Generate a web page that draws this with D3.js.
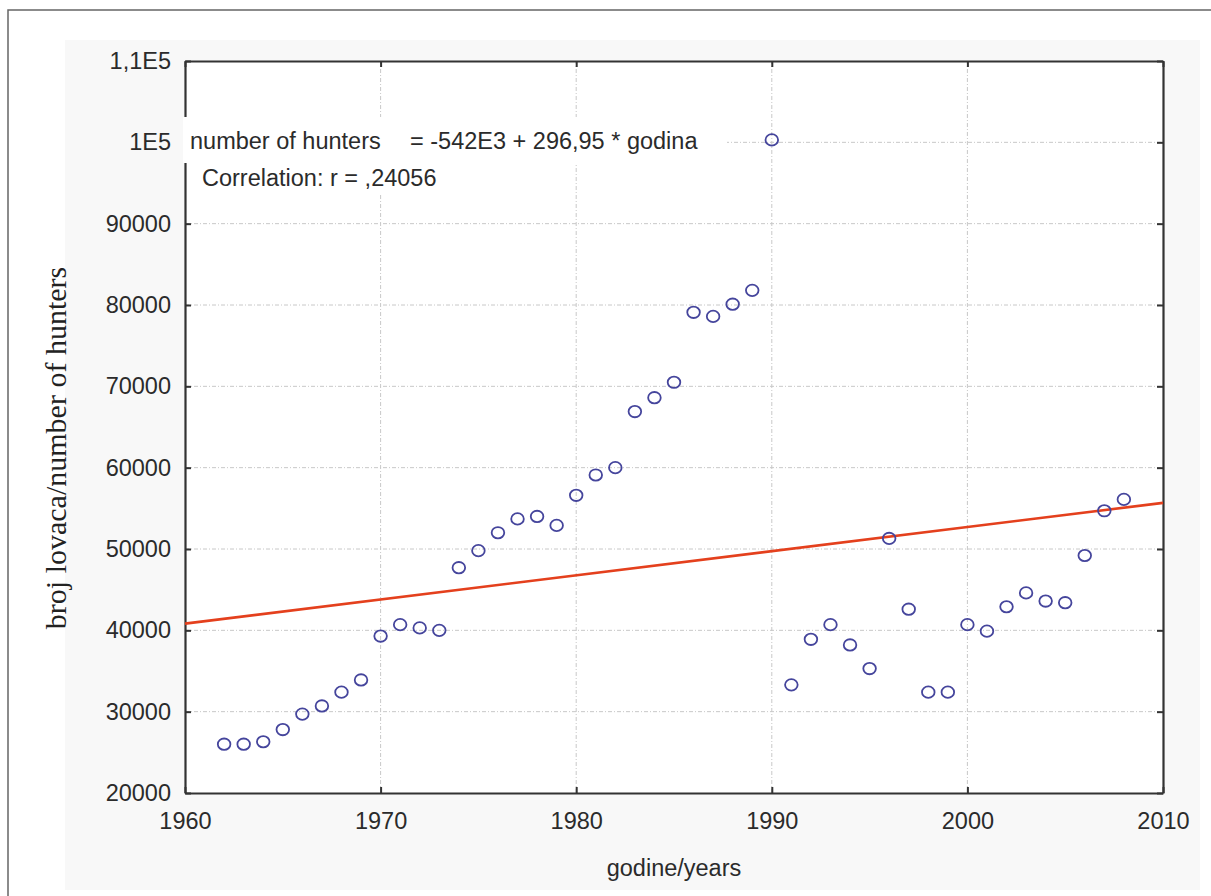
<!DOCTYPE html>
<html>
<head>
<meta charset="utf-8">
<script src="https://cdn.jsdelivr.net/npm/d3@7"></script>
<style>
  html, body { margin: 0; padding: 0; background: #ffffff; }
  svg { display: block; }
</style>
</head>
<body>
<svg id="chart" width="1211" height="896"></svg>
<script>
// ---- data ----
const years = [1962,1963,1964,1965,1966,1967,1968,1969,1970,1971,1972,1973,1974,1975,1976,1977,1978,1979,1980,1981,1982,1983,1984,1985,1986,1987,1988,1989,1990,1991,1992,1993,1994,1995,1996,1997,1998,1999,2000,2001,2002,2003,2004,2005,2006,2007,2008];
const hunters = [26000,26000,26300,27800,29700,30700,32400,33900,39300,40700,40300,40000,47700,49800,52000,53700,54000,52900,56600,59100,60000,66900,68600,70500,79100,78600,80100,81800,100300,33300,38900,40700,38200,35300,51300,42600,32400,32400,40700,39900,42900,44600,43600,43400,49200,54700,56100];
const xTicks = [1960,1970,1980,1990,2000,2010];
const yTicks = [20000,30000,40000,50000,60000,70000,80000,90000,100000,110000];
const yTickLabels = ["20000","30000","40000","50000","60000","70000","80000","90000","1E5","1,1E5"];
const fitIntercept = -541200;
const fitSlope = 296.95;
const eqLeft = "number of hunters";
const eqRight = "= -542E3 + 296,95 * godina";
const corrText = "Correlation: r = ,24056";
const xTitle = "godine/years";
const yTitle = "broj lovaca/number of hunters";

// ---- layout ----
const W = 1211, H = 896;
const m = {left: 185, right: 48, top: 61, bottom: 103};
const svg = d3.select("#chart");
const x = d3.scaleLinear().domain([1960, 2010]).range([m.left, W - m.right]);
const y = d3.scaleLinear().domain([20000, 110000]).range([H - m.bottom, m.top]);
const sans = "'Liberation Sans', Arial, sans-serif";
const textCol = "#2b2b2b";

// outer light background + frame
svg.append("rect").attr("x", 65).attr("y", 40).attr("width", 1135).attr("height", 850).attr("fill", "#f8f8f8");
svg.append("path").attr("d", `M8,${H} L8,10 L${W},10`).attr("fill", "none").attr("stroke", "#666").attr("stroke-width", 1.5);

// plot area
svg.append("rect").attr("x", x(1960)).attr("y", y(110000)).attr("width", x(2010) - x(1960)).attr("height", y(20000) - y(110000)).attr("fill", "#fff");

// gridlines
const grid = svg.append("g");
grid.selectAll("line.h").data(yTicks.slice(1, -1)).join("line")
  .attr("x1", x(1960)).attr("x2", x(2010)).attr("y1", d => y(d)).attr("y2", d => y(d))
  .attr("stroke", "#c8c8c8").attr("stroke-width", 1).attr("stroke-dasharray", "4,2,1,2");
grid.selectAll("line.v").data(xTicks.slice(1, -1)).join("line")
  .attr("y1", y(20000)).attr("y2", y(110000)).attr("x1", d => x(d)).attr("x2", d => x(d))
  .attr("stroke", "#c8c8c8").attr("stroke-width", 1).attr("stroke-dasharray", "4,2,1,2");

// axes with inward ticks
const axBottom = svg.append("g").attr("transform", `translate(0,${y(20000)})`)
  .call(d3.axisBottom(x).tickValues(xTicks).tickFormat(d3.format("d")).tickSizeInner(-6).tickSizeOuter(0).tickPadding(19));
const axTop = svg.append("g").attr("transform", `translate(0,${y(110000)})`)
  .call(d3.axisTop(x).tickValues(xTicks).tickFormat("").tickSizeInner(-6).tickSizeOuter(0));
const axLeft = svg.append("g").attr("transform", `translate(${x(1960)},0)`)
  .call(d3.axisLeft(y).tickValues(yTicks).tickFormat((d, i) => yTickLabels[i]).tickSizeInner(-6).tickSizeOuter(0).tickPadding(14));
const axRight = svg.append("g").attr("transform", `translate(${x(2010)},0)`)
  .call(d3.axisRight(y).tickValues(yTicks).tickFormat("").tickSizeInner(-6).tickSizeOuter(0));
[axBottom, axTop, axLeft, axRight].forEach(g => {
  g.select(".domain").attr("stroke", "#333").attr("stroke-width", 2.2);
  g.selectAll(".tick line").attr("stroke", "#333").attr("stroke-width", 2);
  g.selectAll(".tick text").attr("font-family", sans).attr("font-size", 23.5).attr("fill", textCol);
});

// regression line
svg.append("line")
  .attr("x1", x(1960)).attr("y1", y(fitIntercept + fitSlope * 1960))
  .attr("x2", x(2010)).attr("y2", y(fitIntercept + fitSlope * 2010))
  .attr("stroke", "#e4401d").attr("stroke-width", 2.6);

// annotation boxes (white background, hiding axis and grid behind)
const ann = svg.append("g").attr("font-family", sans).attr("font-size", 23.5).attr("fill", textCol);
ann.append("rect").attr("x", 183).attr("y", 117).attr("width", 544).attr("height", 46).attr("fill", "#fff");
ann.append("rect").attr("x", 196).attr("y", 163).attr("width", 250).attr("height", 30).attr("fill", "#fff");
ann.append("text").attr("x", 190).attr("y", 148.5).text(eqLeft);
ann.append("text").attr("x", 410).attr("y", 148.5).text(eqRight);
ann.append("text").attr("x", 202).attr("y", 185.5).text(corrText);

// points
svg.append("g").selectAll("ellipse").data(years).join("ellipse")
  .attr("cx", (d, i) => x(d)).attr("cy", (d, i) => y(hunters[i]))
  .attr("rx", 6.3).attr("ry", 5.7)
  .attr("fill", "none").attr("stroke", "#45459c").attr("stroke-width", 1.8);

// titles
svg.append("text").attr("x", (x(1960) + x(2010)) / 2).attr("y", 876)
  .attr("text-anchor", "middle").attr("font-family", sans).attr("font-size", 23.5).attr("fill", textCol).text(xTitle);
svg.append("text").attr("transform", "translate(66,448) rotate(-90)")
  .attr("text-anchor", "middle").attr("font-family", "'Liberation Serif', 'Times New Roman', serif")
  .attr("font-size", 30).attr("fill", "#222").text(yTitle);
</script>
</body>
</html>
